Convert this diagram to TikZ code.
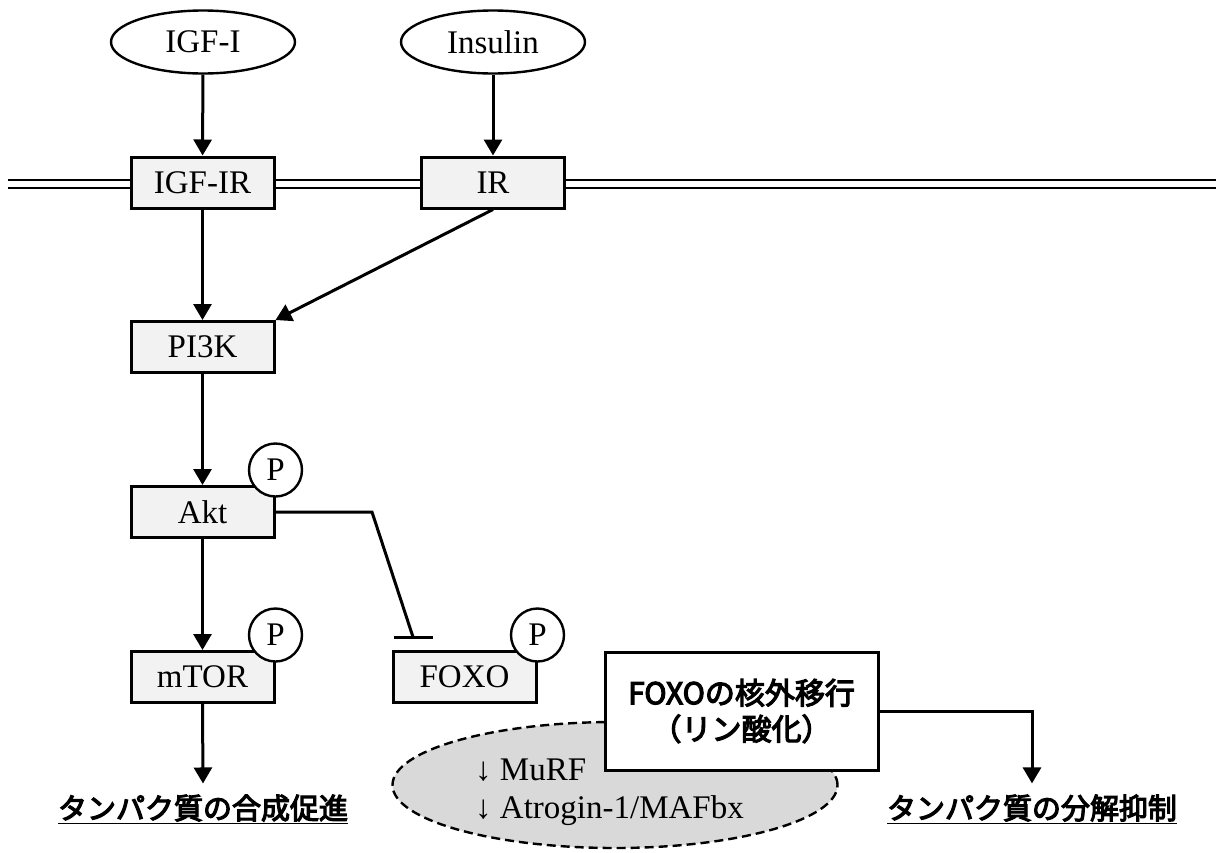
\documentclass[tikz,border=0pt]{standalone}
\usepackage{fontspec}
\setmainfont{Liberation Serif}
\font\jplab="Noto Sans CJK JP:embolden=4" at 29pt
\font\jpbox="Noto Sans CJK JP:embolden=4" at 30pt
\newcommand\nucfont{\jpbox\baselineskip=36pt\relax}
\usetikzlibrary{shapes.geometric,arrows.meta}
\definecolor{boxgray}{HTML}{F2F2F2}
\definecolor{ellgray}{HTML}{D9D9D9}
\begin{document}
\begin{tikzpicture}[x=1pt,y=-1pt,
  lw/.style={line width=3pt},
  molbox/.style={draw, lw, fill=boxgray, minimum width=143pt, minimum height=51pt, inner sep=0pt, font=\fontsize{33}{38}\selectfont},
  ligand/.style={ellipse, draw, line width=2.4pt, fill=white, minimum width=184pt, minimum height=63pt, inner sep=0pt, font=\fontsize{33}{38}\selectfont},
  pcirc/.style={circle, draw, fill=white, line width=2.4pt, minimum size=53pt, inner sep=0pt, font=\fontsize{33}{38}\selectfont},
  arr/.style={lw, -{Triangle[length=16pt,width=18pt]}},
  outcome/.style={font=\jplab, inner xsep=0pt, inner ysep=11pt, anchor=base},
  ltext/.style={font=\fontsize{33}{38}\selectfont, inner sep=0pt, anchor=base west}
]
\useasboundingbox (0,0) rectangle (1216,852);

% membrane
\draw[line width=2.8pt] (8,180) -- (1216,180) (8,188) -- (1216,188);

% ligands
\node[ligand] (igf) at (203,42) {IGF-I};
\node[ligand] (ins) at (493,42) {Insulin};

% receptors and kinases
\node[molbox] (igfr) at (202.5,182.5) {IGF-IR};
\node[molbox] (ir) at (493,182.5) {IR};
\node[molbox] (pi3k) at (202.5,347) {PI3K};
\node[molbox] (akt) at (202.5,512) {Akt};
\node[molbox] (mtor) at (202.5,677) {mTOR};
\node[molbox] (foxo) at (464.5,677) {FOXO};

% phosphorylation marks
\node[pcirc] (pakt) at ([yshift=15pt]akt.north east) {P};
\node[pcirc] (pmtor) at ([yshift=15pt]mtor.north east) {P};
\node[pcirc] (pfoxo) at ([yshift=15pt]foxo.north east) {P};

% target gene ellipse
\node[ellipse, draw, dashed, dash pattern=on 9pt off 5pt, line width=2.4pt, fill=ellgray, minimum width=445pt, minimum height=126pt] (ub) at (615,785) {};
\node[ltext] (murf) at (475,780) {↓ MuRF};
\node[ltext] (atro) at (475,818) {↓ Atrogin-1/MAFbx};

% nuclear export box
\node[draw, lw, fill=white, minimum width=273pt, minimum height=118pt, align=center, inner sep=0pt,
      font=\nucfont] (nuc) at (741.5,711) {FOXOの核外移行\\（リン酸化）};

% outcomes
\node[outcome] (syn) at (203,819) {\underline{タンパク質の合成促進}};
\node[outcome] (deg) at (1032,819) {\underline{タンパク質の分解抑制}};

% connectors
\draw[arr] (igf) -- (igfr);
\draw[arr] (ins) -- (ir);
\draw[arr] (igfr) -- (pi3k);
\draw[arr] (ir.south) -- (pi3k.north east);
\draw[arr] (pi3k) -- (akt);
\draw[arr] (akt) -- (mtor);
\draw[arr] (mtor.south) -- (syn.north);
\coordinate (bend) at (372,512);
\coordinate (inh) at (413,637);
\draw[lw] (akt.east) -- (bend) -- (inh);
\draw[lw] ([xshift=-19pt]inh) -- ([xshift=20pt]inh);
\draw[arr] (nuc.east) -| (deg.north);
\end{tikzpicture}
\end{document}
